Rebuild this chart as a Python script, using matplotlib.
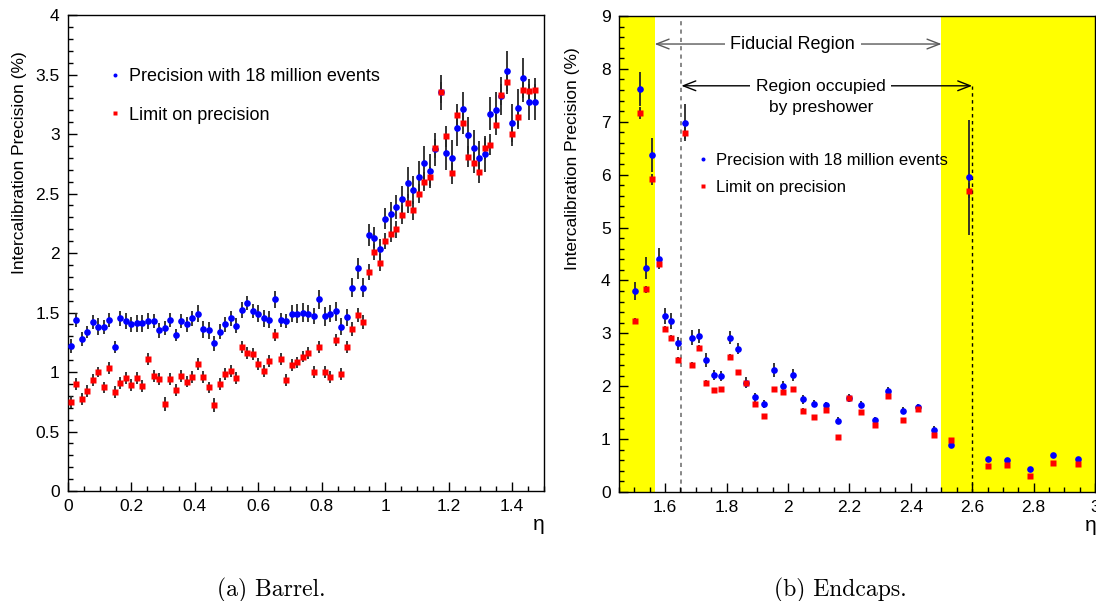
import matplotlib.pyplot as plt
import numpy as np
from matplotlib.ticker import MultipleLocator, FormatStrFormatter

plt.rcParams['font.family'] = ['Liberation Sans', 'DejaVu Sans']

# barrel: one point per crystal ring (85 rings, 0.0174 wide in eta)
barrel_eta = (np.arange(85) + 0.5) * 0.0174
barrel_prec = [1.22, 1.44, 1.28, 1.34, 1.42, 1.38, 1.38, 1.44, 1.21, 1.45,
               1.43, 1.40, 1.41, 1.41, 1.43, 1.43, 1.35, 1.37, 1.44, 1.31,
               1.43, 1.40, 1.45, 1.49, 1.36, 1.35, 1.24, 1.34, 1.40, 1.45,
               1.39, 1.52, 1.58, 1.51, 1.49, 1.45, 1.44, 1.61, 1.44, 1.43,
               1.49, 1.49, 1.50, 1.49, 1.47, 1.61, 1.47, 1.49, 1.51, 1.38,
               1.46, 1.71, 1.87, 1.71, 2.15, 2.13, 2.03, 2.29, 2.33, 2.39,
               2.45, 2.59, 2.53, 2.64, 2.76, 2.69, 2.87, 3.35, 2.84, 2.80,
               3.05, 3.21, 2.99, 2.88, 2.80, 2.83, 3.17, 3.20, 3.32, 3.53,
               3.09, 3.22, 3.47, 3.27, 3.27]
barrel_prec_err = [0.06, 0.06, 0.06, 0.05, 0.06, 0.07, 0.06, 0.06, 0.05, 0.06,
                   0.07, 0.06, 0.07, 0.07, 0.07, 0.06, 0.06, 0.06, 0.06, 0.05,
                   0.06, 0.06, 0.06, 0.07, 0.07, 0.07, 0.06, 0.06, 0.06, 0.06,
                   0.06, 0.07, 0.06, 0.06, 0.07, 0.07, 0.07, 0.07, 0.06, 0.06,
                   0.07, 0.08, 0.08, 0.07, 0.07, 0.08, 0.08, 0.07, 0.08, 0.07,
                   0.07, 0.08, 0.09, 0.08, 0.09, 0.09, 0.09, 0.09, 0.10, 0.10,
                   0.11, 0.13, 0.12, 0.13, 0.14, 0.14, 0.14, 0.15, 0.14, 0.15,
                   0.15, 0.14, 0.15, 0.15, 0.14, 0.15, 0.14, 0.15, 0.16, 0.17,
                   0.16, 0.16, 0.17, 0.15, 0.15]
barrel_limit = [0.75, 0.90, 0.77, 0.84, 0.93, 1.00, 0.87, 1.03, 0.83, 0.91,
                0.95, 0.89, 0.95, 0.88, 1.11, 0.97, 0.94, 0.73, 0.94, 0.85,
                0.97, 0.92, 0.96, 1.07, 0.96, 0.87, 0.72, 0.90, 0.98, 1.01,
                0.95, 1.21, 1.16, 1.15, 1.07, 1.01, 1.09, 1.31, 1.11, 0.93,
                1.06, 1.08, 1.13, 1.16, 1.00, 1.21, 1.00, 0.96, 1.27, 0.98,
                1.21, 1.36, 1.48, 1.42, 1.84, 2.01, 1.92, 2.10, 2.16, 2.20,
                2.32, 2.42, 2.36, 2.50, 2.60, 2.64, 2.88, 3.35, 2.98, 2.67,
                3.16, 3.09, 2.81, 2.76, 2.68, 2.88, 2.91, 3.08, 3.33, 3.44,
                3.00, 3.14, 3.37, 3.36, 3.37]
barrel_limit_err = [0.05, 0.05, 0.05, 0.05, 0.05, 0.04, 0.05, 0.05, 0.05, 0.05,
                    0.05, 0.05, 0.05, 0.05, 0.05, 0.05, 0.05, 0.06, 0.05, 0.05,
                    0.05, 0.05, 0.05, 0.05, 0.05, 0.05, 0.06, 0.05, 0.05, 0.05,
                    0.05, 0.05, 0.05, 0.05, 0.05, 0.05, 0.05, 0.05, 0.05, 0.05,
                    0.05, 0.05, 0.05, 0.05, 0.05, 0.05, 0.05, 0.05, 0.05, 0.05,
                    0.05, 0.06, 0.06, 0.06, 0.07, 0.07, 0.07, 0.07, 0.07, 0.07,
                    0.08, 0.08, 0.08, 0.08, 0.08, 0.08, 0.08, 0.09, 0.09, 0.09,
                    0.09, 0.09, 0.09, 0.09, 0.09, 0.09, 0.09, 0.09, 0.09, 0.10,
                    0.10, 0.10, 0.10, 0.10, 0.10]

# endcaps
endcap_eta = [1.501, 1.519, 1.539, 1.559, 1.580, 1.601, 1.620, 1.642, 1.665, 1.688,
              1.711, 1.733, 1.759, 1.783, 1.810, 1.838, 1.863, 1.893, 1.923, 1.954,
              1.985, 2.016, 2.050, 2.085, 2.123, 2.162, 2.198, 2.238, 2.282, 2.326,
              2.374, 2.423, 2.475, 2.530, 2.589, 2.650, 2.715, 2.787, 2.864, 2.945]
endcap_prec = [3.80, 7.62, 4.23, 6.37, 4.41, 3.33, 3.24, 2.81, 6.98, 2.92,
               2.95, 2.49, 2.21, 2.19, 2.92, 2.71, 2.07, 1.79, 1.66, 2.31,
               2.01, 2.21, 1.75, 1.67, 1.64, 1.35, 1.78, 1.65, 1.37, 1.91,
               1.54, 1.61, 1.18, 0.89, 5.95, 0.63, 0.61, 0.44, 0.69, 0.63]
endcap_prec_err = [0.17, 0.33, 0.21, 0.32, 0.20, 0.15, 0.15, 0.12, 0.35, 0.14,
                   0.14, 0.13, 0.10, 0.10, 0.13, 0.10, 0.10, 0.08, 0.07, 0.13,
                   0.09, 0.11, 0.08, 0.07, 0.07, 0.07, 0.07, 0.07, 0.05, 0.08,
                   0.07, 0.05, 0.07, 0.05, 1.09, 0.03, 0.03, 0.03, 0.04, 0.03]
endcap_limit = [3.23, 7.16, 3.83, 5.91, 4.32, 3.08, 2.91, 2.50, 6.79, 2.41,
                2.73, 2.06, 1.92, 1.94, 2.55, 2.26, 2.07, 1.67, 1.43, 1.94,
                1.89, 1.95, 1.54, 1.42, 1.55, 1.04, 1.78, 1.52, 1.26, 1.81,
                1.37, 1.57, 1.08, 0.99, 5.70, 0.50, 0.51, 0.30, 0.54, 0.52]
endcap_limit_err = [0.06, 0.11, 0.07, 0.10, 0.06, 0.05, 0.05, 0.05, 0.12, 0.05,
                    0.05, 0.05, 0.04, 0.04, 0.05, 0.04, 0.04, 0.04, 0.04, 0.04,
                    0.04, 0.04, 0.04, 0.03, 0.03, 0.03, 0.03, 0.03, 0.03, 0.03,
                    0.03, 0.03, 0.03, 0.03, 0.15, 0.02, 0.02, 0.02, 0.02, 0.02]

PREC_LABEL = 'Precision with 18 million events'
LIMIT_LABEL = 'Limit on precision'


def draw_points(ax, eta, prec, prec_err, limit, limit_err):
    ax.errorbar(eta, prec, yerr=prec_err, fmt='none', ecolor='0.15',
                elinewidth=1.3, zorder=2)
    ax.errorbar(eta, limit, yerr=limit_err, fmt='none', ecolor='0.15',
                elinewidth=1.3, zorder=2)
    ax.plot(eta, prec, 'o', color='blue', ms=4.8, mec='none', label=PREC_LABEL, zorder=3)
    ax.plot(eta, limit, 's', color='red', ms=4.8, mec='none', label=LIMIT_LABEL, zorder=4)


def style_axes(ax, xmaj, xmin, ymaj, ymin):
    ax.xaxis.set_major_locator(MultipleLocator(xmaj))
    ax.xaxis.set_minor_locator(MultipleLocator(xmin))
    ax.yaxis.set_major_locator(MultipleLocator(ymaj))
    ax.yaxis.set_minor_locator(MultipleLocator(ymin))
    ax.xaxis.set_major_formatter(FormatStrFormatter('%g'))
    ax.yaxis.set_major_formatter(FormatStrFormatter('%g'))
    ax.tick_params(which='both', direction='in', top=False, right=False,
                   labelsize=12.5, width=1)
    ax.tick_params(which='major', length=6.5, pad=6)
    ax.tick_params(which='minor', length=3.3)
    ax.set_ylabel('Intercalibration Precision (%)', fontsize=12.5)
    ax.yaxis.set_label_coords(-0.085, 0.69)
    ax.set_xlabel('η', fontsize=15)
    ax.xaxis.set_label_coords(0.99, -0.05)
    for s in ax.spines.values():
        s.set_linewidth(1.0)


fig = plt.figure(figsize=(10.96, 6.01), dpi=100)
ax1 = fig.add_axes([0.0620, 0.1830, 0.4343, 0.792])
ax2 = fig.add_axes([0.5648, 0.1814, 0.4343, 0.792])

# barrel
draw_points(ax1, barrel_eta, barrel_prec, barrel_prec_err, barrel_limit, barrel_limit_err)
ax1.set_xlim(0, 1.5)
ax1.set_ylim(0, 4)
style_axes(ax1, 0.2, 0.05, 0.5, 0.1)
ax1.legend(loc='upper left', bbox_to_anchor=(0.088, 0.889), frameon=False,
           numpoints=1, markerscale=0.6, handlelength=0.6, handletextpad=0.45,
           borderpad=0, borderaxespad=0, labelspacing=1.2, fontsize=13)

# endcaps
ax2.axvspan(1.45, 1.566, color='yellow', lw=0, zorder=0)
ax2.axvspan(2.5, 3.0, color='yellow', lw=0, zorder=0)
ax2.axvline(1.653, color='0.45', ls=(0, (2.5, 2.5)), lw=1.2, zorder=1)
ax2.plot([2.6, 2.6], [0, 7.68], color='black', ls=(0, (2.5, 2.5)), lw=1.0, zorder=1)
draw_points(ax2, endcap_eta, endcap_prec, endcap_prec_err, endcap_limit, endcap_limit_err)
ax2.set_xlim(1.45, 3.0)
ax2.set_ylim(0, 9)
style_axes(ax2, 0.2, 0.05, 1, 0.2)
ax2.yaxis.set_label_coords(-0.082, 0.70)

ax2.annotate('', xy=(1.566, 8.47), xytext=(2.5, 8.47),
             arrowprops=dict(arrowstyle='<->,head_length=0.9,head_width=0.35',
                             color='0.35', lw=1.0, shrinkA=0, shrinkB=0))
ax2.text(2.016, 8.47, 'Fiducial Region', ha='center', va='center', fontsize=13,
         bbox=dict(facecolor='white', edgecolor='none', pad=4))
ax2.annotate('', xy=(1.653, 7.68), xytext=(2.6, 7.68),
             arrowprops=dict(arrowstyle='<->,head_length=0.9,head_width=0.35',
                             color='black', lw=1.0, shrinkA=0, shrinkB=0))
ax2.text(2.107, 7.66, 'Region occupied', ha='center', va='center', fontsize=12.5,
         bbox=dict(facecolor='white', edgecolor='none', pad=4))
ax2.text(2.107, 7.27, 'by preshower', ha='center', va='center', fontsize=12.5)

ax2.legend(loc='upper left', bbox_to_anchor=(0.166, 0.712), frameon=False,
           numpoints=1, markerscale=0.6, handlelength=0.6, handletextpad=0.45,
           borderpad=0, borderaxespad=0, labelspacing=0.72, fontsize=12)

fig.text(0.248, 0.018, '(a) Barrel.', ha='center', va='center', family='cmr10', fontsize=17)
fig.text(0.767, 0.018, '(b) Endcaps.', ha='center', va='center', family='cmr10', fontsize=17)

fig.savefig('out.png', dpi=100)
